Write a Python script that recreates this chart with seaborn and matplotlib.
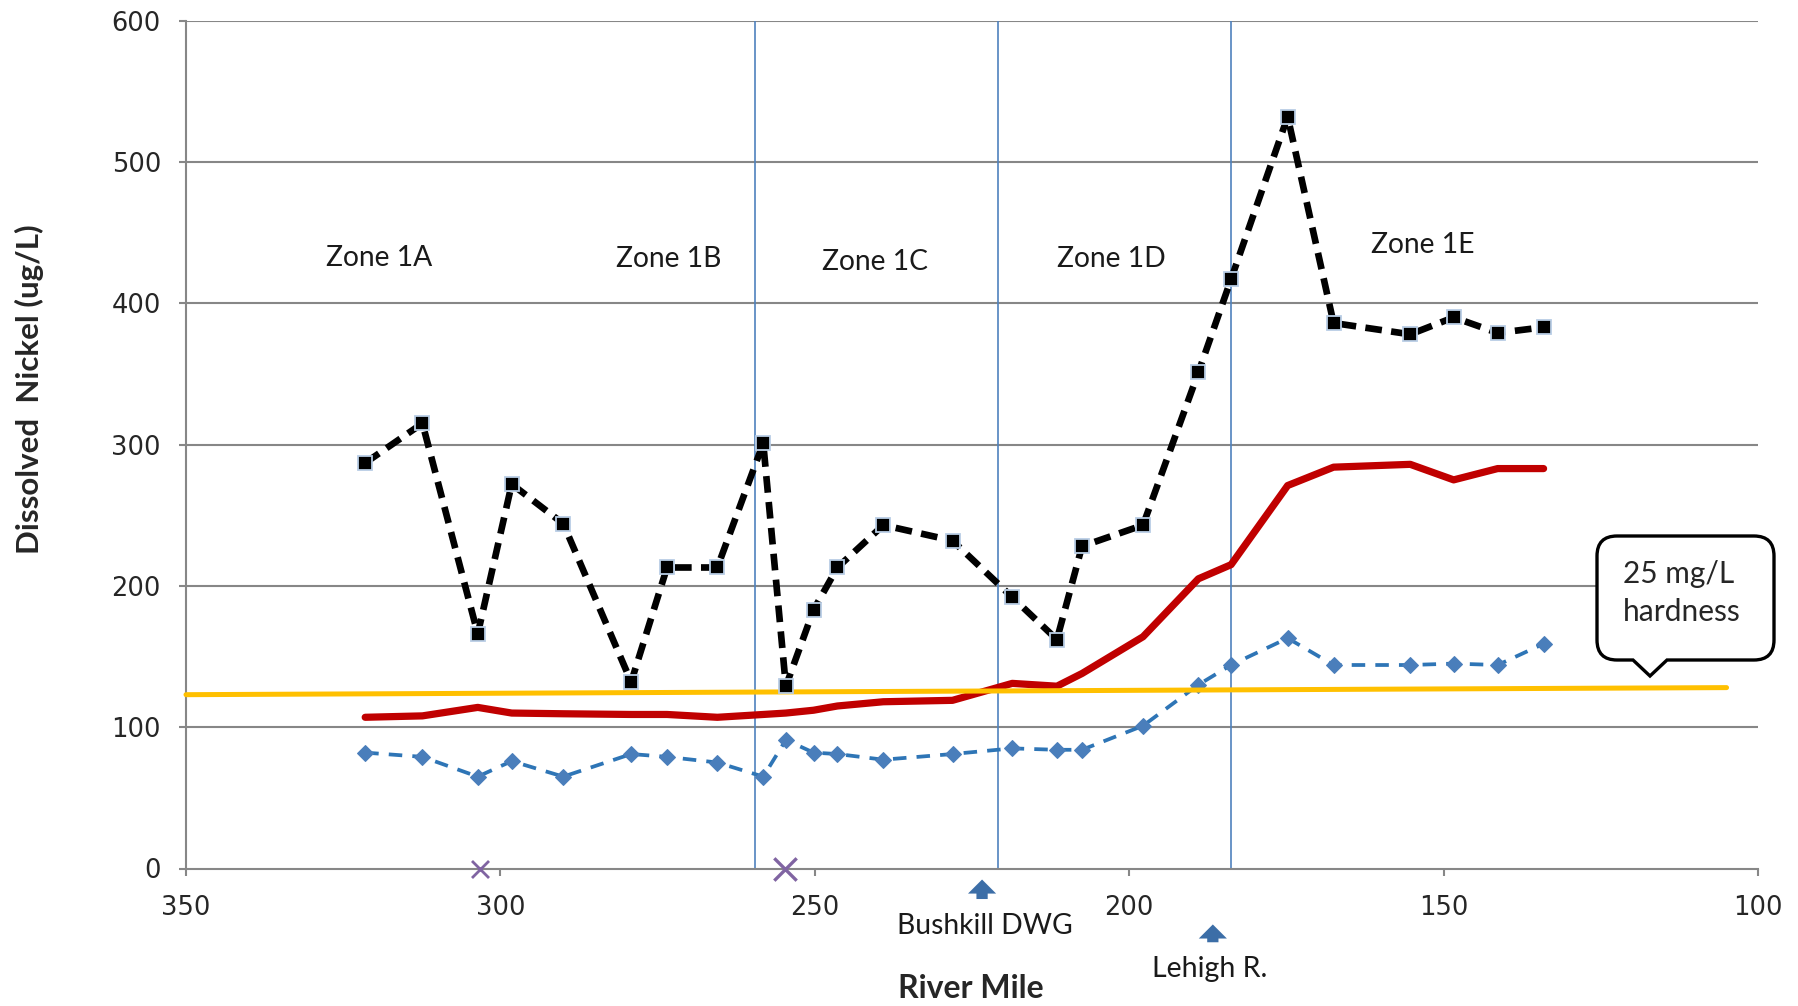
import matplotlib
matplotlib.use("Agg")
import matplotlib.pyplot as plt
import seaborn as sns
import pandas as pd
from matplotlib.path import Path
from matplotlib.patches import PathPatch

# ---------------- data ----------------
river_mile = [321.5, 312.4, 303.6, 298.2, 290.0, 279.2, 273.5, 265.5, 258.2, 254.6,
              250.2, 246.4, 239.1, 228.1, 218.6, 211.5, 207.5, 197.8, 189.0, 183.8,
              174.8, 167.5, 155.3, 148.4, 141.4, 134.1]
nickel_max = [287, 315, 166, 272, 244, 132, 213, 213, 301, 129,
              183, 213, 243, 232, 192, 162, 228, 243, 351, 417,
              532, 386, 378, 390, 379, 383]
nickel_low = [82, 79, 65, 76, 65, 81, 79, 75, 65, 91,
              82, 81, 77, 81, 85, 84, 84, 101, 130, 144,
              163, 144, 144, 145, 144, 159]
criterion_site = [107, 108, 114, 110, 109.5, 109, 109, 107, 109, 110,
                  112, 115, 118, 119, 131, 129, 138, 164, 205, 215,
                  271, 284, 286, 275, 283, 283]
hardness_mile = [350, 105]
hardness_crit = [123, 128]
x_marks_mile = [303.3, 254.7]
x_marks_val = [0, 0]
zone_bounds = [259.5, 220.8, 183.8]
zone_labels = ["Zone 1A", "Zone 1B", "Zone 1C", "Zone 1D", "Zone 1E"]
zone_label_x = [319.3, 273.2, 240.5, 202.8, 153.3]
zone_label_y = [432, 431, 429, 431, 441]
trib_names = ["Bushkill DWG", "Lehigh R."]
trib_mile = [223.4, 186.7]
x_ticks = [350, 300, 250, 200, 150, 100]
y_ticks = [0, 100, 200, 300, 400, 500, 600]

df = pd.DataFrame({"mile": river_mile, "max": nickel_max,
                   "low": nickel_low, "crit": criterion_site})
df_h = pd.DataFrame({"mile": hardness_mile, "crit": hardness_crit})

# ---------------- figure ----------------
sns.set_style("white")
plt.rcParams["font.family"] = ["DejaVu Sans"]
W, H = 1799, 1006
fig = plt.figure(figsize=(W / 100, H / 100), dpi=100)
ax = fig.add_axes([186 / W, 1 - 868.5 / H, (1758 - 186) / W, (868.5 - 20.6) / H])

grid_c = "#878787"
for yv in y_ticks[1:]:
    ax.axhline(yv, color=grid_c, lw=1.5, zorder=1)

for xb in zone_bounds:
    ax.axvline(xb, color="#4f81bd", lw=1.2, zorder=2)

# blue dashed with diamonds
sns.lineplot(data=df, x="mile", y="low", ax=ax, sort=False, estimator=None,
             color="#2e75b6", lw=2.7, marker="D", markersize=8.5,
             markerfacecolor="#4a7ebb", markeredgecolor="#4a7ebb", zorder=3)
ax.lines[-1].set_dashes([3.6, 2.7])

# red solid
sns.lineplot(data=df, x="mile", y="crit", ax=ax, sort=False, estimator=None,
             color="#c00000", lw=5.2, zorder=3)

# yellow hardness line
sns.lineplot(data=df_h, x="mile", y="crit", ax=ax, sort=False, estimator=None,
             color="#ffc000", lw=3.6, zorder=4)
ax.lines[-1].set_clip_on(False)

# black dashed with squares
sns.lineplot(data=df, x="mile", y="max", ax=ax, sort=False, estimator=None,
             color="black", lw=4.8, marker="s", markersize=10,
             markerfacecolor="black", markeredgecolor="#b9cde5",
             markeredgewidth=1.3, zorder=5)
ax.lines[-1].set_dashes([2.5, 1.4])

# purple x marks on axis
ax.scatter(x_marks_mile[:1], x_marks_val[:1], marker="x", s=150, color="#8064a2",
           linewidths=2, zorder=6, clip_on=False)
ax.scatter(x_marks_mile[1:], x_marks_val[1:], marker="x", s=260, color="#8064a2",
           linewidths=2.4, zorder=6, clip_on=False)

lab_font = ["Lato", "DejaVu Sans"]

# zone labels
for lab, xl, yl in zip(zone_labels, zone_label_x, zone_label_y):
    ax.text(xl, yl, lab, ha="center", va="center", fontsize=20.3,
            family=lab_font, color="#1a1a1a")

# axes
ax.set_xlim(350, 100)
ax.set_ylim(0, 600)
ax.set_xticks(x_ticks)
ax.set_yticks(y_ticks)
ax.tick_params(axis="x", direction="out", length=5, width=1.5, color=grid_c,
               labelsize=18.5, pad=14, bottom=True)
ax.tick_params(axis="y", direction="out", length=5, width=1.5, color=grid_c,
               labelsize=18.5, pad=13, left=True)
ax.set_xlabel("")
ax.set_ylabel("")
for s in ["top", "right"]:
    ax.spines[s].set_visible(False)
for s in ["left", "bottom"]:
    ax.spines[s].set_color(grid_c)
    ax.spines[s].set_linewidth(1.5)

# tributary arrows & labels
arrow_c = "#3c6ea7"
arr = dict(arrowstyle="simple,head_width=1.5,head_length=0.75,tail_width=0.6",
           color=arrow_c, lw=0, mutation_scale=13.5, shrinkA=0, shrinkB=0)
ax.annotate("", xy=(trib_mile[0], -0.013), xytext=(trib_mile[0], -0.036),
            xycoords=("data", "axes fraction"), textcoords=("data", "axes fraction"),
            arrowprops=arr, annotation_clip=False)
ax.annotate("", xy=(trib_mile[1], -0.066), xytext=(trib_mile[1], -0.087),
            xycoords=("data", "axes fraction"), textcoords=("data", "axes fraction"),
            arrowprops=arr, annotation_clip=False)
ax.text(223.0, -0.068, trib_names[0], transform=ax.get_xaxis_transform(),
        ha="center", va="center", fontsize=20.3, family=lab_font,
        color="#1a1a1a", clip_on=False)
ax.text(187.2, -0.119, trib_names[1], transform=ax.get_xaxis_transform(),
        ha="center", va="center", fontsize=20.5, family=lab_font,
        color="#1a1a1a", clip_on=False)

# axis titles
fig.text(971 / W, 1 - 988 / H, "River Mile", ha="center", va="center",
         fontsize=23, fontweight="bold", family=lab_font)
fig.text(29 / W, 1 - 389 / H, "Dissolved  Nickel (ug/L)", ha="center", va="center",
         rotation=90, fontsize=22.5, fontweight="bold", family=lab_font)

# callout box
x0, x1, yt, yb, r = 1597, 1774, 536, 660, 20
pts = [(x0 + r, yt), (x1 - r, yt), (x1, yt), (x1, yt + r), (x1, yb - r), (x1, yb),
       (x1 - r, yb), (1667, yb), (1650, 676), (1633, yb), (x0 + r, yb), (x0, yb),
       (x0, yb - r), (x0, yt + r), (x0, yt), (x0 + r, yt), (x0 + r, yt)]
codes = [Path.MOVETO, Path.LINETO, Path.CURVE3, Path.CURVE3, Path.LINETO, Path.CURVE3,
         Path.CURVE3, Path.LINETO, Path.LINETO, Path.LINETO, Path.LINETO, Path.CURVE3,
         Path.CURVE3, Path.LINETO, Path.CURVE3, Path.CURVE3, Path.CLOSEPOLY]
verts = [(px / W, 1 - py / H) for px, py in pts]
patch = PathPatch(Path(verts, codes), facecolor="white", edgecolor="black",
                  lw=2.4, transform=fig.transFigure, zorder=10)
fig.patches.append(patch)
fig.text(1623 / W, 1 - 574 / H, "25 mg/L", ha="left", va="center", fontsize=21.5,
         family=lab_font, zorder=11)
fig.text(1623 / W, 1 - 612 / H, "hardness", ha="left", va="center", fontsize=21.5,
         family=lab_font, zorder=11)

fig.savefig("out.png", dpi=100)
